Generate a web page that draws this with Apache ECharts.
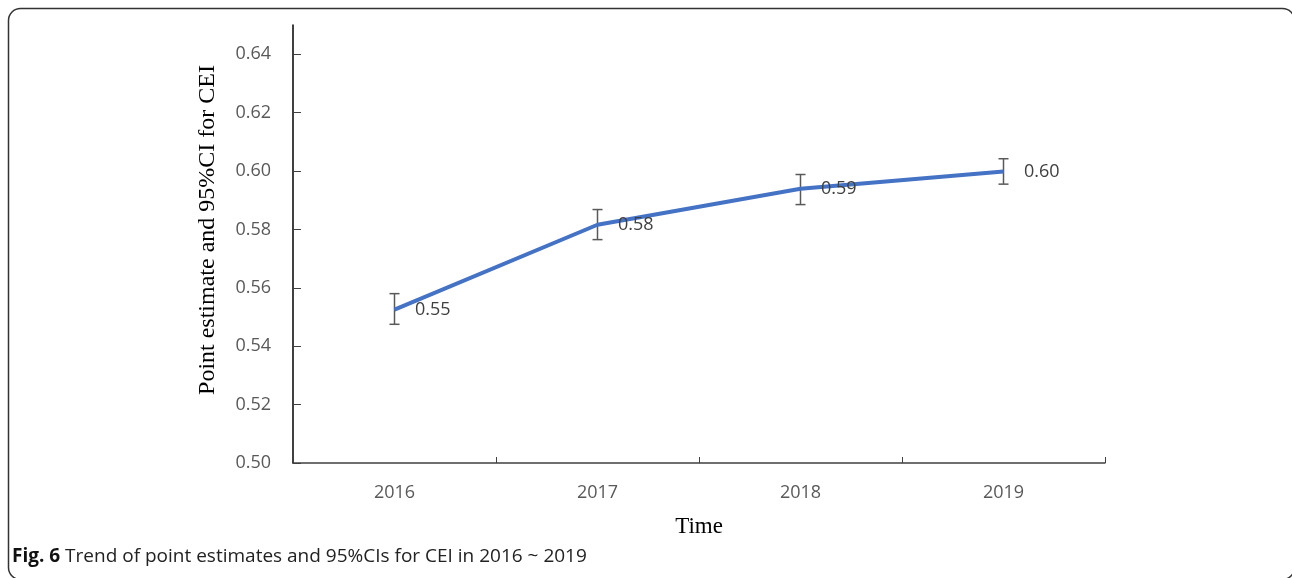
<!DOCTYPE html>
<html>
<head>
<meta charset="utf-8">
<script src="https://cdn.jsdelivr.net/npm/echarts@6/dist/echarts.min.js"></script>
<style>
html,body{margin:0;padding:0;background:#fff;}
#chart{width:1292px;height:578px;}
</style>
</head>
<body>
<div id="chart"></div>
<script>
const years = ['2016', '2017', '2018', '2019'];
const pointEst = [0.5525, 0.5816, 0.5939, 0.5998];
const ciLow = [0.5475, 0.5765, 0.5885, 0.5955];
const ciHigh = [0.5580, 0.5868, 0.5988, 0.6042];
const pointLabels = ['0.55', '0.58', '0.59', '0.60'];
const yTicks = [0.50, 0.52, 0.54, 0.56, 0.58, 0.60, 0.62, 0.64];
const yTitle = 'Point estimate and 95%CI for CEI';
const xTitle = 'Time';
const captionBold = 'Fig. 6';
const captionText = ' Trend of point estimates and 95%CIs for CEI in 2016 ~ 2019';

const chart = echarts.init(document.getElementById('chart'), null, {renderer: 'canvas'});
const labelColor = '#595959';
const tickFont = 'Open Sans';

chart.setOption({
  animation: false,
  backgroundColor: '#fff',
  grid: {left: 293, right: 187, top: 25, bottom: 115, containLabel: false},
  xAxis: {
    type: 'category',
    data: years,
    boundaryGap: true,
    name: xTitle,
    nameLocation: 'middle',
    nameGap: 52,
    nameTextStyle: {fontFamily: 'Liberation Serif', fontSize: 23, color: '#000'},
    axisLine: {lineStyle: {color: '#404040', width: 1.5}},
    axisTick: {show: true, inside: true, length: 6, lineStyle: {color: '#404040', width: 1}},
    axisLabel: {fontFamily: tickFont, fontSize: 18, color: labelColor, margin: 21},
    splitLine: {show: false}
  },
  yAxis: {
    type: 'value',
    min: 0.50,
    max: 0.65,
    interval: 0.02,
    axisLine: {show: true, lineStyle: {color: '#000', width: 1.5}},
    axisTick: {show: true, inside: true, length: 8, customValues: yTicks, lineStyle: {color: '#404040', width: 1}},
    axisLabel: {
      fontFamily: tickFont, fontSize: 18, color: labelColor, margin: 22,
      customValues: yTicks,
      formatter: v => v.toFixed(2)
    },
    splitLine: {show: false}
  },
  series: [
    {
      type: 'line',
      data: pointEst,
      symbol: 'circle',
      symbolSize: 1,
      showSymbol: true,
      itemStyle: {color: '#4472C4'},
      lineStyle: {color: '#4472C4', width: 4},
      label: {
        show: true,
        position: 'right',
        distance: 20,
        offset: [0, 3],
        fontFamily: tickFont,
        fontSize: 18,
        color: '#404040',
        formatter: p => pointLabels[p.dataIndex]
      },
      labelLayout: {hideOverlap: false},
      z: 3
    },
    {
      type: 'custom',
      data: years.map((y, i) => [i, ciLow[i], ciHigh[i]]),
      renderItem: function (params, api) {
        const x = api.value(0);
        const lo = api.coord([x, api.value(1)]);
        const hi = api.coord([x, api.value(2)]);
        const half = 5;
        const style = {stroke: '#595959', lineWidth: 1.5};
        return {
          type: 'group',
          children: [
            {type: 'line', shape: {x1: lo[0], y1: lo[1], x2: hi[0], y2: hi[1]}, style},
            {type: 'line', shape: {x1: lo[0] - half, y1: lo[1], x2: lo[0] + half, y2: lo[1]}, style},
            {type: 'line', shape: {x1: hi[0] - half, y1: hi[1], x2: hi[0] + half, y2: hi[1]}, style}
          ]
        };
      },
      z: 2
    }
  ],
  graphic: [
    {
      type: 'rect',
      shape: {x: 8.5, y: 8.5, width: 1286, height: 571, r: 12},
      style: {fill: 'none', stroke: '#333', lineWidth: 1.5},
      silent: true
    },
    {
      type: 'text',
      x: 208,
      y: 230,
      rotation: Math.PI / 2,
      style: {
        text: yTitle,
        fontFamily: 'Liberation Serif',
        fontSize: 24,
        fill: '#000',
        align: 'center',
        verticalAlign: 'middle'
      }
    },
    {
      type: 'text',
      x: 12,
      y: 557,
      style: {
        text: '{b|' + captionBold + '}{n|' + captionText + '}',
        verticalAlign: 'middle',
        rich: {
          b: {fontFamily: 'Open Sans', fontWeight: 'bold', fontSize: 19, fill: '#111'},
          n: {fontFamily: 'Open Sans', fontSize: 19, fill: '#222'}
        }
      }
    }
  ]
});
</script>
</body>
</html>
